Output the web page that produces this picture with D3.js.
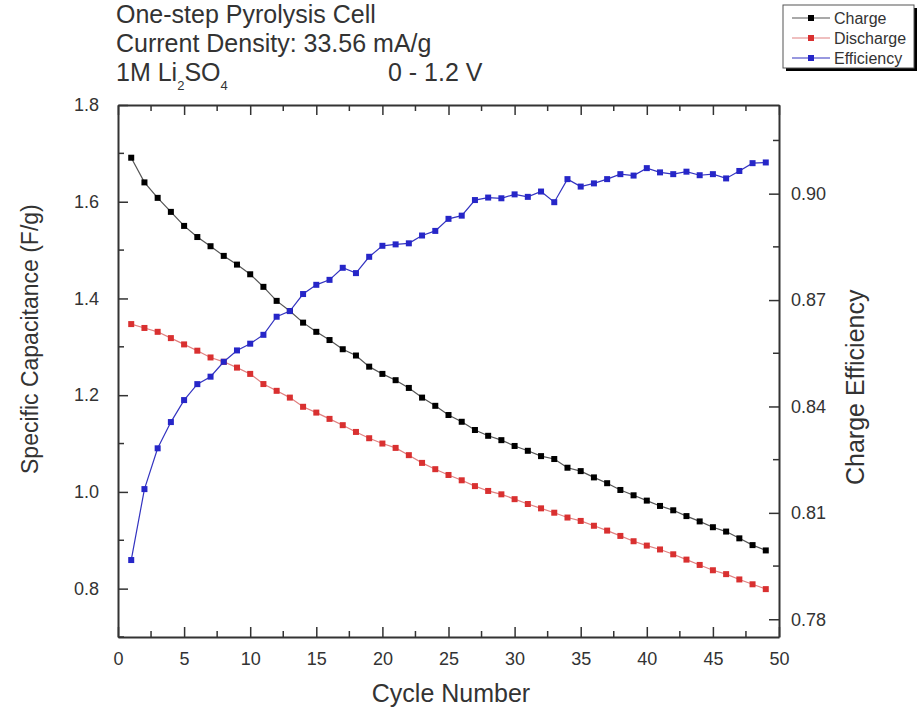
<!DOCTYPE html>
<html><head><meta charset="utf-8">
<script src="https://cdn.jsdelivr.net/npm/d3@7"></script>
<style>
body{margin:0;background:#fff;}
svg{display:block;font-family:"Liberation Sans",Arial,sans-serif;}
</style></head><body>
<svg id="c" width="920" height="711"></svg>
<script>
const cycles = d3.range(1, 50);
const charge = [1.691,1.640,1.608,1.579,1.550,1.527,1.508,1.488,1.470,1.450,1.424,1.395,1.374,1.350,1.331,1.314,1.295,1.282,1.259,1.244,1.231,1.215,1.195,1.178,1.159,1.145,1.128,1.116,1.107,1.095,1.085,1.074,1.068,1.050,1.043,1.030,1.018,1.004,0.993,0.982,0.971,0.962,0.950,0.939,0.927,0.918,0.904,0.890,0.879];
const discharge = [1.347,1.339,1.331,1.318,1.305,1.292,1.278,1.269,1.257,1.244,1.223,1.209,1.195,1.176,1.164,1.151,1.138,1.124,1.111,1.100,1.091,1.076,1.060,1.047,1.035,1.024,1.012,1.002,0.995,0.985,0.975,0.966,0.957,0.947,0.940,0.930,0.920,0.909,0.898,0.889,0.881,0.871,0.860,0.849,0.838,0.830,0.819,0.809,0.799];
const efficiency = [0.7967,0.8167,0.8282,0.8356,0.8418,0.8463,0.8484,0.8526,0.8558,0.8577,0.8602,0.8653,0.8669,0.8717,0.8743,0.8757,0.8791,0.8776,0.8822,0.8853,0.8857,0.8860,0.8882,0.8895,0.8929,0.8938,0.8982,0.8989,0.8987,0.8998,0.8991,0.9006,0.8976,0.9041,0.9020,0.9029,0.9041,0.9055,0.9051,0.9072,0.9060,0.9055,0.9062,0.9052,0.9055,0.9043,0.9064,0.9086,0.9088];
const xTicks = [0,5,10,15,20,25,30,35,40,45,50];
const yLeftTicks = [0.8,1.0,1.2,1.4,1.6,1.8];
const yRightTicks = [0.78,0.81,0.84,0.87,0.90];
const seriesNames = ["Charge","Discharge","Efficiency"];

const svg = d3.select("#c");
const L = 118, R = 779, T = 105, B = 637;
const x = d3.scaleLinear().domain([0,50]).range([L,R]);
const yL = d3.scaleLinear().domain([0.7,1.8]).range([B,T]);
const yR = d3.scaleLinear().domain([0.775,0.925]).range([B,T]);
const axisCol = "#333";
const txtCol = "#333";

function minor(g, scale, vals, orient, len){
  vals.forEach(v=>{
    const p = scale(v);
    if(orient==="b") g.append("line").attr("x1",p).attr("x2",p).attr("y1",B).attr("y2",B-len);
    if(orient==="t") g.append("line").attr("x1",p).attr("x2",p).attr("y1",T).attr("y2",T+len);
    if(orient==="l") g.append("line").attr("x1",L).attr("x2",L+len).attr("y1",p).attr("y2",p);
    if(orient==="r") g.append("line").attr("x1",R).attr("x2",R-len).attr("y1",p).attr("y2",p);
  });
}
const tg = svg.append("g").attr("stroke",axisCol).attr("stroke-width",1.5);
minor(tg, x, d3.range(2.5,50,5), "b", 6);
minor(tg, x, d3.range(2.5,50,5), "t", 6);
minor(tg, yL, [0.7,0.9,1.1,1.3,1.5,1.7], "l", 6);
minor(tg, yR, [0.795,0.825,0.855,0.885,0.915], "r", 6);

function styleAxis(g){
  g.select(".domain").attr("stroke",axisCol).attr("stroke-width",2);
  g.selectAll(".tick line").attr("stroke",axisCol).attr("stroke-width",1.5);
  g.selectAll(".tick text").attr("fill",txtCol).style("font-size","18px");
}
svg.append("g").attr("transform",`translate(0,${B})`)
  .call(d3.axisBottom(x).tickValues(xTicks).tickSizeInner(-10).tickSizeOuter(0).tickPadding(15))
  .call(styleAxis);
svg.append("g").attr("transform",`translate(0,${T})`)
  .call(d3.axisTop(x).tickValues(xTicks).tickSizeInner(-10).tickSizeOuter(0).tickFormat(""))
  .call(styleAxis);
svg.append("g").attr("transform",`translate(${L},0)`)
  .call(d3.axisLeft(yL).tickValues(yLeftTicks).tickSizeInner(-10).tickSizeOuter(0).tickPadding(19).tickFormat(d3.format(".1f")))
  .call(styleAxis);
svg.append("g").attr("transform",`translate(${R},0)`)
  .call(d3.axisRight(yR).tickValues(yRightTicks).tickSizeInner(-10).tickSizeOuter(0).tickPadding(12).tickFormat(d3.format(".2f")))
  .call(styleAxis);

const cols = {Charge:{m:"#000",l:"#555"}, Discharge:{m:"#d93030",l:"#e08080"}, Efficiency:{m:"#2626c8",l:"#3333c0"}};
const data = [
  {name:seriesNames[0], vals:charge, y:yL},
  {name:seriesNames[1], vals:discharge, y:yL},
  {name:seriesNames[2], vals:efficiency, y:yR}
];
data.forEach(s=>{
  const pts = cycles.map((c,i)=>[x(c), s.y(s.vals[i])]);
  svg.append("path").attr("d", d3.line()(pts)).attr("fill","none").attr("stroke",cols[s.name].l).attr("stroke-width",1.2);
  svg.append("g").selectAll("rect").data(pts).join("rect")
    .attr("x",d=>d[0]-3).attr("y",d=>d[1]-3).attr("width",6).attr("height",6)
    .attr("fill",cols[s.name].m);
});

// axis titles
svg.append("text").attr("transform",`translate(38,474) rotate(-90)`).attr("text-anchor","start")
  .attr("fill",txtCol).style("font-size","23px").text("Specific Capacitance (F/g)");
svg.append("text").attr("transform",`translate(864,485) rotate(-90)`).attr("text-anchor","start")
  .attr("fill",txtCol).style("font-size","25px").text("Charge Efficiency");
svg.append("text").attr("x",451).attr("y",702).attr("text-anchor","middle")
  .attr("fill",txtCol).style("font-size","25px").text("Cycle Number");

// header text
const hd = svg.append("g").attr("fill",txtCol).style("font-size","25px");
hd.append("text").attr("x",116).attr("y",23).text("One-step Pyrolysis Cell");
hd.append("text").attr("x",116).attr("y",52).text("Current Density: 33.56 mA/g");
const t3 = hd.append("text").attr("x",116).attr("y",81);
t3.append("tspan").text("1M Li");
t3.append("tspan").attr("dy",9).style("font-size","13px").text("2");
t3.append("tspan").attr("dy",-9).text("SO");
t3.append("tspan").attr("dy",9).style("font-size","13px").text("4");
hd.append("text").attr("x",388).attr("y",81).text("0 - 1.2 V");

// legend
const lg = svg.append("g");
lg.append("rect").attr("x",786).attr("y",8).attr("width",131).attr("height",63).attr("fill","#000");
lg.append("rect").attr("x",783).attr("y",5).attr("width",131).attr("height",63).attr("fill","#fff").attr("stroke","#555").attr("stroke-width",1);
seriesNames.forEach((n,i)=>{
  const yy = 18 + i*20;
  lg.append("line").attr("x1",792).attr("x2",830).attr("y1",yy).attr("y2",yy).attr("stroke",cols[n].l).attr("stroke-width",1.2);
  lg.append("rect").attr("x",808).attr("y",yy-3).attr("width",6).attr("height",6).attr("fill",cols[n].m);
  lg.append("text").attr("x",834).attr("y",yy+5.5).attr("fill",txtCol).style("font-size","16px").text(n);
});
</script>
</body></html>
